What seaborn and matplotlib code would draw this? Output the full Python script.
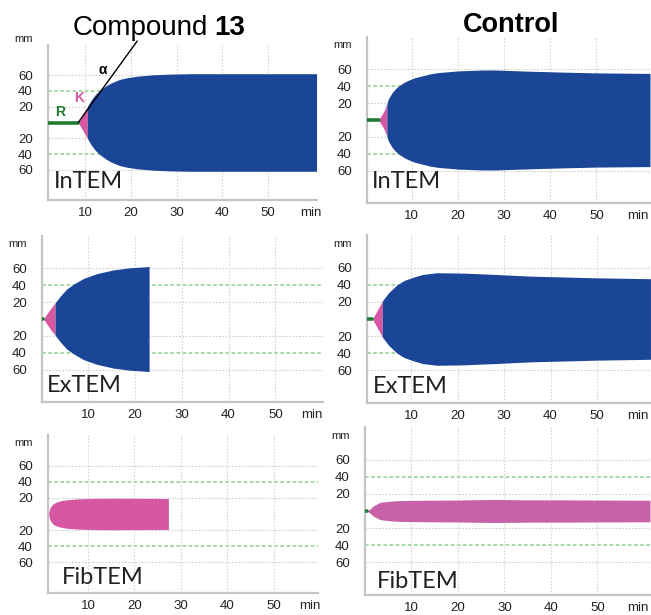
import matplotlib.pyplot as plt
import seaborn as sns
import numpy as np

# ROTEM traces: time (min) and amplitude (mm, one side)
# Compound 13
c13_intem_ct, c13_intem_k = 8.5, 10.5
c13_intem_t = [8.5, 9.5, 10.5, 11.3, 12.2, 13.3, 14.5, 15.5, 16.5, 17.6, 19.1, 21.3, 24.9, 28.6,
               33, 40, 50, 60.6]
c13_intem_amp = [0, 10, 20, 28, 35, 41, 46, 49.5, 52, 54.5, 56.5, 58.5, 60.3, 61.2,
                 61.7, 61.7, 61.7, 61.7]

c13_extem_ct, c13_extem_k = 0.4, 2.9
c13_extem_t = [0.4, 1.2, 1.9, 2.9, 4.0, 5.4, 6.8, 9.0, 11.8, 15.4, 19, 21, 23]
c13_extem_amp = [0, 6.5, 12, 19, 27, 35.5, 41, 48, 53.5, 58, 60.5, 61.2, 62]

c13_fibtem_ct = 1.5
c13_fibtem_t = [1.5, 1.65, 1.8, 2.1, 2.5, 3, 3.6, 4.4, 5.4, 7, 8.3, 11, 14, 17, 20, 24, 27.3]
c13_fibtem_amp = [0, 4, 7, 10, 12.5, 14.3, 15.5, 16.8, 17.6, 18.4, 18.9, 19.3, 19.5, 19.5,
                  19.4, 19.3, 19.2]

# Control
ctl_intem_ct, ctl_intem_k = 2.8, 4.6
ctl_intem_t = [2.8, 3.5, 4.1, 4.6, 4.9, 5.7, 6.4, 7.1, 8.2, 9.3, 10.7, 12.2, 14, 15.8, 20.1,
               25.2, 28.4, 35.6, 43, 50, 56, 61.6]
ctl_intem_amp = [0, 6, 12, 19, 24.5, 32, 36.5, 40, 44, 47, 50, 52, 54.5, 56, 58,
                 59, 59, 57.6, 56.5, 55.6, 55.3, 55]

ctl_extem_ct, ctl_extem_k = 1.65, 3.8
ctl_extem_t = [1.65, 2.7, 3.8, 5.2, 7, 8.5, 10.6, 12.5, 15.6, 21.4, 28, 35.7, 43, 50, 56, 61.5]
ctl_extem_amp = [0, 10, 21, 31, 40, 45, 49, 52, 54, 53.5, 52, 50, 49, 48, 47.5, 47]

ctl_fibtem_ct = 0.4
ctl_fibtem_t = [0.4, 1.1, 1.8, 3.2, 5, 6.8, 10, 14, 20, 28, 35, 42, 50, 61.3]
ctl_fibtem_amp = [0, 2.5, 6, 10, 11.3, 12, 12.4, 12.6, 12.8, 13.5, 13, 13, 12.8, 12.6]

x_ticks = [10, 20, 30, 40, 50]
y_ticks = [-60, -40, -20, 20, 40, 60]
y_labels = ["60", "40", "20", "20", "40", "60"]

BLUE = "#1B4596"
PINK = "#D657A2"
PINK_CTL = "#C862A8"
GREEN = "#1E7D32"

sns.set_theme(style="white")
plt.rcParams["font.family"] = ["Liberation Sans", "DejaVu Sans"]

W, H = 651, 615
fig = plt.figure(figsize=(W / 100, H / 100), dpi=100)


def make_axes(x0, y0, x1, y1):
    return fig.add_axes([x0 / W, 1 - y1 / H, (x1 - x0) / W, (y1 - y0) / H])


def draw_panel(ax, name, xlim, ct, k, t, amp, pink, name_pos, mm_y=88, min_dx=0):
    t = np.array(t)
    amp = np.array(amp)
    ax.set_xlim(*xlim)
    ax.set_ylim(-98, 98)

    # grid
    for y in [-60, -20, 20, 60]:
        ax.axhline(y, color="#CFCFCF", lw=0.8, ls=(0, (1.5, 1.5)), zorder=0)
    for y in [-40, 40]:
        ax.axhline(y, color="#8FD08F", lw=1.1, ls=(0, (2.5, 1.5)), zorder=0)
    for x in x_ticks:
        ax.axvline(x, color="#D5D5D5", lw=0.8, ls=(0, (1.5, 1.5)), zorder=0)

    # R segment
    sns.lineplot(x=[xlim[0], ct], y=[0, 0], color=GREEN, lw=2.6, ax=ax, zorder=3)

    if k is None:
        ax.fill_between(t, -amp, amp, color=pink, lw=0, zorder=2)
    else:
        pm = t <= k
        bm = t >= k
        ax.fill_between(t[pm], -amp[pm], amp[pm], color=pink, lw=0, zorder=2)
        ax.fill_between(t[bm], -amp[bm], amp[bm], color=BLUE, lw=0, zorder=2)

    ax.set_xticks(x_ticks)
    ax.set_xticklabels([str(v) for v in x_ticks])
    ax.set_yticks(y_ticks)
    ax.set_yticklabels(y_labels)
    ax.tick_params(length=0, labelsize=9.5, colors="#222222")
    ax.tick_params(axis="y", pad=11)
    ax.tick_params(axis="x", pad=5)
    for s in ["top", "right"]:
        ax.spines[s].set_visible(False)
    for s in ["left", "bottom"]:
        ax.spines[s].set_color("#C4C4C4")
        ax.spines[s].set_linewidth(1.6)
    ax.grid(False)

    ax.annotate("min", xy=(1, 0), xycoords="axes fraction", xytext=(min_dx, -5),
                textcoords="offset points", ha="right", va="top",
                fontsize=9.5, color="#222222")
    ax.annotate("mm", xy=(0, mm_y), xycoords=("axes fraction", "data"),
                xytext=(-11, 0), textcoords="offset points", ha="right",
                va="center", fontsize=8, color="#222222")
    ax.text(name_pos[0], name_pos[1], name, transform=ax.transAxes,
            ha="left", va="center", fontsize=17, family="Lato", color="#222222")


ax1 = make_axes(48, 45, 317, 200)
draw_panel(ax1, "InTEM", (1.9, 60.7), c13_intem_ct, c13_intem_k,
           c13_intem_t, c13_intem_amp, PINK, (0.02, 0.12), mm_y=105, min_dx=3)
ax2 = make_axes(367, 37, 650, 203)
draw_panel(ax2, "InTEM", (0.3, 61.6), ctl_intem_ct, ctl_intem_k,
           ctl_intem_t, ctl_intem_amp, PINK, (0.017, 0.13), min_dx=-1)
ax3 = make_axes(42, 236, 323, 402)
draw_panel(ax3, "ExTEM", (0.1, 60.2), c13_extem_ct, c13_extem_k,
           c13_extem_t, c13_extem_amp, PINK, (0.017, 0.10))
ax4 = make_axes(367, 235, 650, 403)
draw_panel(ax4, "ExTEM", (0.5, 61.4), ctl_extem_ct, ctl_extem_k,
           ctl_extem_t, ctl_extem_amp, PINK, (0.02, 0.10), min_dx=-1)
ax5 = make_axes(48, 435, 318, 593)
draw_panel(ax5, "FibTEM", (1.4, 59.5), c13_fibtem_ct, None,
           c13_fibtem_t, c13_fibtem_amp, PINK, (0.05, 0.10), min_dx=2)
ax6 = make_axes(365, 427, 650, 595)
draw_panel(ax6, "FibTEM", (0.0, 61.3), ctl_fibtem_ct, None,
           ctl_fibtem_t, ctl_fibtem_amp, PINK_CTL, (0.04, 0.08), min_dx=-1)

# R / K / alpha annotation on compound 13 InTEM
ax1.plot([c13_intem_ct, 21.4], [0, 103], color="black", lw=1.0, clip_on=False, zorder=4)
ax1.text(4.5, 13, "R", color=GREEN, fontsize=10, fontweight="bold", ha="center", va="center")
ax1.text(8.7, 31, "K", color=PINK, fontsize=10, fontweight="bold", ha="center", va="center")
ax1.text(13.9, 67, "α", color="black", fontsize=10, fontweight="bold", ha="center", va="center")

# titles
fig.text(208 / W, 1 - 28 / H, "Compound", ha="right", va="center", fontsize=20, color="black")
fig.text(214 / W, 1 - 28 / H, "13", ha="left", va="center", fontsize=20,
         fontweight="bold", color="black")
fig.text(511 / W, 1 - 25 / H, "Control", ha="center", va="center", fontsize=19.5,
         fontweight="bold", color="black")

fig.savefig("out.png", dpi=100)
